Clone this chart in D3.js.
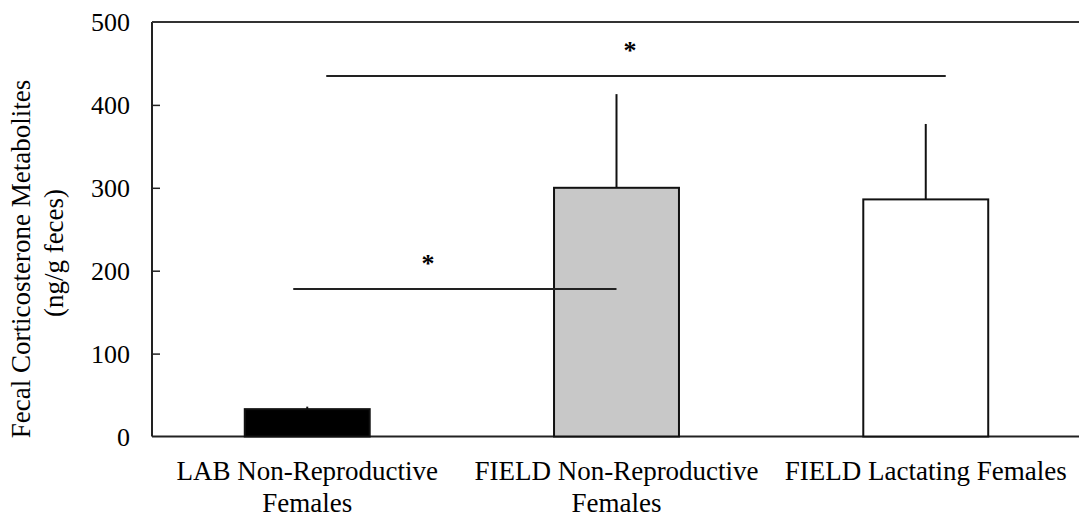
<!DOCTYPE html>
<html>
<head>
<meta charset="utf-8">
<script src="https://cdn.jsdelivr.net/npm/d3@7"></script>
<style>
  html, body { margin: 0; padding: 0; background: #fff; }
  svg { display: block; }
  text { font-family: "Liberation Serif", "Times New Roman", serif; fill: #000; }
</style>
</head>
<body>
<svg id="chart" width="1079" height="518"></svg>
<script>
// Group names (two-line axis labels) and fecal corticosterone means (ng/g feces)
const categories = ["LAB Non-Reproductive Females", "FIELD Non-Reproductive Females", "FIELD Lactating Females"];
const labelLines = [["LAB Non-Reproductive", "Females"], ["FIELD Non-Reproductive", "Females"], ["FIELD Lactating Females"]];
const means = [33, 300, 286];
const errorUpper = [36, 413, 377];
const barFills = ["#000000", "#c8c8c8", "#ffffff"];
const yTicks = [0, 100, 200, 300, 400, 500];
// Significance brackets: category span and height (ng/g)
const brackets = [
  { from: 0, to: 1, value: 178, label: "*" },
  { from: 0, to: 2, value: 435, label: "*" }
];

const svg = d3.select("#chart");
const plotLeft = 152, plotRight = 1079, plotTop = 22, plotBottom = 436.5;

const x = d3.scaleBand().domain(categories).range([plotLeft, 1081])
  .paddingInner(0.596).paddingOuter(0.3);
const y = d3.scaleLinear().domain([0, 500]).range([plotBottom, plotTop]);

// Frame: left axis, baseline, top line
svg.append("line").attr("x1", plotLeft).attr("x2", plotLeft).attr("y1", y(500)).attr("y2", y(0))
  .attr("stroke", "#222").attr("stroke-width", 2);
svg.append("line").attr("x1", plotLeft).attr("x2", plotRight).attr("y1", y(0)).attr("y2", y(0))
  .attr("stroke", "#222").attr("stroke-width", 2);
svg.append("line").attr("x1", plotLeft).attr("x2", plotRight).attr("y1", y(500)).attr("y2", y(500))
  .attr("stroke", "#333").attr("stroke-width", 2);

// Y axis with inward ticks
const yAxis = d3.axisLeft(y).tickValues(yTicks).tickSize(-8).tickPadding(22).tickFormat(d3.format("d"));
const ya = svg.append("g").attr("transform", `translate(${plotLeft},0)`).call(yAxis);
ya.select(".domain").remove();
ya.selectAll(".tick line").attr("stroke", "#222").attr("stroke-width", 1.5)
  .filter(d => d === 0 || d === 500).remove();
ya.selectAll(".tick text").attr("font-size", 26).attr("fill", "#000")
  .style("font-family", "'Liberation Serif', serif").attr("dy", "0.33em");

// Error bars (upper only)
svg.selectAll("line.err").data(categories).join("line").attr("class", "err")
  .attr("x1", d => x(d) + x.bandwidth() / 2).attr("x2", d => x(d) + x.bandwidth() / 2)
  .attr("y1", (d, i) => y(means[i])).attr("y2", (d, i) => y(errorUpper[i]))
  .attr("stroke", "#111").attr("stroke-width", 2);

// Bars
svg.selectAll("rect.bar").data(categories).join("rect").attr("class", "bar")
  .attr("x", d => x(d)).attr("width", x.bandwidth())
  .attr("y", (d, i) => y(means[i])).attr("height", (d, i) => y(0) - y(means[i]))
  .attr("fill", (d, i) => barFills[i]).attr("stroke", "#111").attr("stroke-width", 2);

// Significance brackets
const bx = svg.append("g");
brackets.forEach(b => {
  const x1 = x(categories[b.from]) + x.bandwidth() / 2 + (b.to === 2 ? 19 : -14);
  const x2 = x(categories[b.to]) + x.bandwidth() / 2 + (b.to === 2 ? 20 : 0);
  bx.append("line").attr("x1", x1).attr("x2", x2).attr("y1", y(b.value)).attr("y2", y(b.value))
    .attr("stroke", "#222").attr("stroke-width", 2);
  bx.append("text").attr("x", b.to === 2 ? 630 : 428).attr("y", y(b.value) - 17)
    .attr("text-anchor", "middle").attr("font-size", 26).attr("font-weight", "bold").text(b.label);
});

// Category labels
const cl = svg.append("g");
categories.forEach((c, i) => {
  const t = cl.append("text").attr("x", x(c) + x.bandwidth() / 2).attr("y", 480)
    .attr("text-anchor", "middle").attr("font-size", 27);
  labelLines[i].forEach((ln, j) => {
    t.append("tspan").attr("x", x(c) + x.bandwidth() / 2).attr("dy", j === 0 ? 0 : 32).text(ln);
  });
});

// Y axis title
const yt = svg.append("text").attr("transform", "translate(30,259) rotate(-90)")
  .attr("text-anchor", "middle").attr("font-size", 27);
yt.append("tspan").attr("x", 0).attr("dy", 0).text("Fecal Corticosterone Metabolites");
yt.append("tspan").attr("x", 6).attr("dy", 33).text("(ng/g feces)");
</script>
</body>
</html>
